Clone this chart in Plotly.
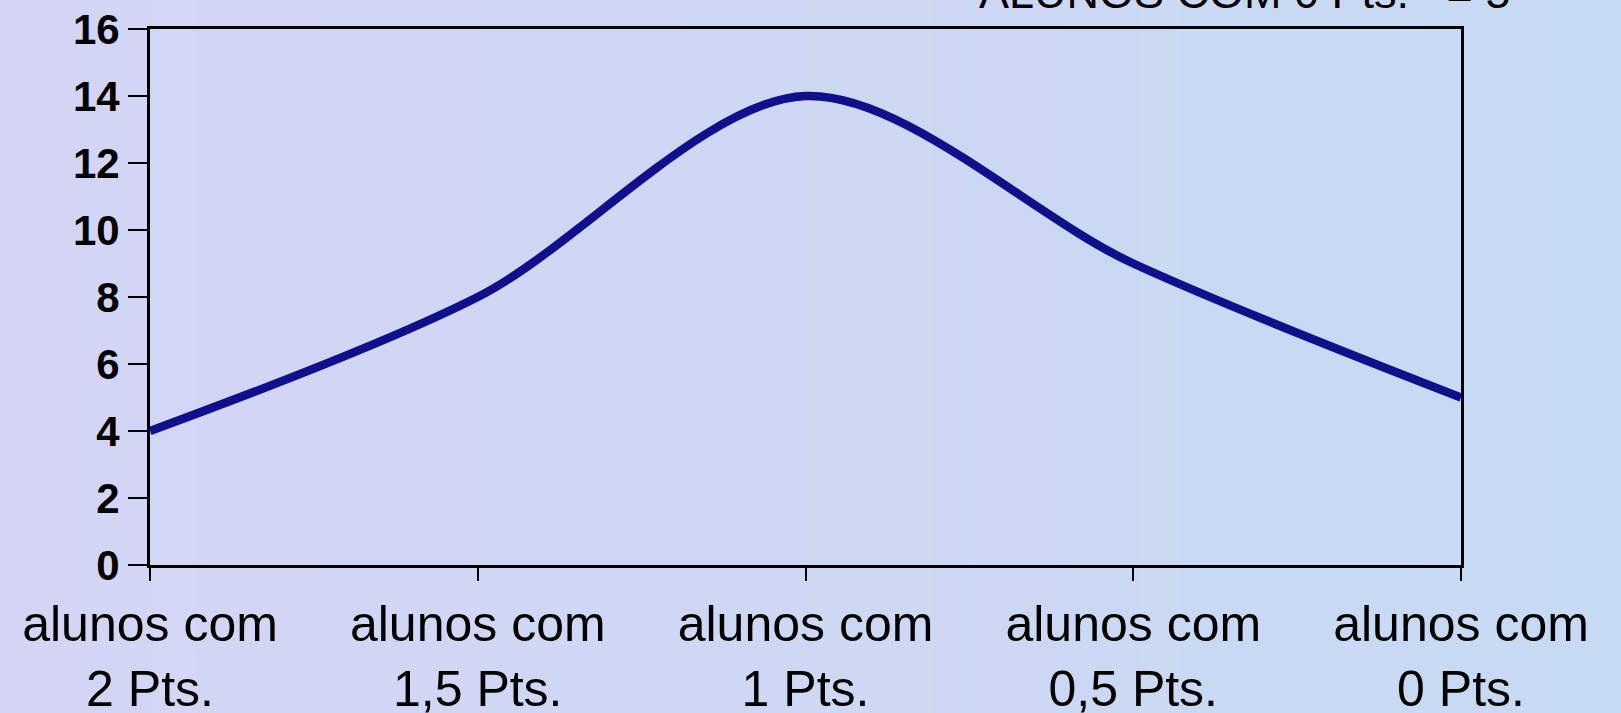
import plotly.graph_objects as go

categories = ["alunos com<br>2 Pts.", "alunos com<br>1,5 Pts.", "alunos com<br>1 Pts.",
              "alunos com<br>0,5 Pts.", "alunos com<br>0 Pts."]
values = [4, 8, 14, 9, 5]
y_ticks = [0, 2, 4, 6, 8, 10, 12, 14, 16]
top_text = "ALUNOS COM 0 Pts.\u00a0\u00a0\u00a0= 5"

x_idx = list(range(len(categories)))
FONT = "Liberation Sans, Arial, sans-serif"

fig = go.Figure()
fig.add_trace(go.Scatter(
    x=x_idx, y=values, mode="lines",
    line=dict(color="#10108c", width=8.5, shape="spline", smoothing=0.9),
    showlegend=False, hoverinfo="skip",
))

# horizontal background gradient (lavender -> light blue)
W, PW = 1621, 1311
n = 40
c0 = (0xd4, 0xd5, 0xf4)
c1 = (0xc7, 0xda, 0xf3)
shapes = []
for i in range(n):
    t = i / (n - 1)
    c = tuple(round(a + (b - a) * t) for a, b in zip(c0, c1))
    x0 = -160 / PW + i * ((W + 20) / PW) / n
    x1 = x0 + ((W + 20) / PW) / n + 0.003
    shapes.append(dict(type="rect", xref="paper", yref="paper",
                       x0=x0, x1=x1, y0=-0.4, y1=1.2, layer="below",
                       line=dict(width=0), fillcolor="rgb(%d,%d,%d)" % c))

tick_common = dict(showticklabels=False, showgrid=False, zeroline=False,
                   showline=False, automargin=False, tickwidth=2, tickcolor="black")

fig.update_layout(
    width=1621, height=713,
    margin=dict(l=150, r=160, t=29, b=147.5),
    paper_bgcolor="#cdd8f3", plot_bgcolor="rgba(0,0,0,0)",
    shapes=shapes,
    xaxis=dict(range=[0, 4], tickvals=x_idx, ticktext=categories,
               automargin=False,
               showgrid=False, zeroline=False,
               showline=True, linecolor="black", linewidth=3, mirror=True,
               ticks="outside", ticklen=13, tickwidth=2, tickcolor="black",
               tickfont=dict(family=FONT, size=50, color="black")),
    xaxis2=dict(overlaying="x", matches="x", anchor="y", side="bottom",
                tickvals=x_idx, ticks="inside", ticklen=11, **tick_common),
    xaxis3=dict(overlaying="x", matches="x", anchor="y", side="bottom",
                tickvals=x_idx, ticks="outside", ticklen=18, **tick_common),
    yaxis=dict(range=[0, 16], tickvals=y_ticks,
               automargin=False,
               showgrid=False, zeroline=False,
               showline=True, linecolor="black", linewidth=3, mirror=True,
               ticks="outside", ticklen=19, tickwidth=2, tickcolor="black",
               tickfont=dict(family=FONT, size=42, color="black", weight="bold")),
    yaxis2=dict(overlaying="y", matches="y", anchor="x", side="left",
                tickvals=y_ticks, ticks="inside", ticklen=18, **tick_common),
    annotations=[dict(text=top_text, xref="paper", yref="paper",
                      x=(977 - 150) / 1311, y=1, xanchor="left", yanchor="bottom",
                      yshift=9, showarrow=False,
                      font=dict(family=FONT, size=45, color="black"))],
)

fig.write_html("out.html", config={"displayModeBar": False},
               post_script="document.body.style.margin='0';document.body.style.overflow='hidden';")
